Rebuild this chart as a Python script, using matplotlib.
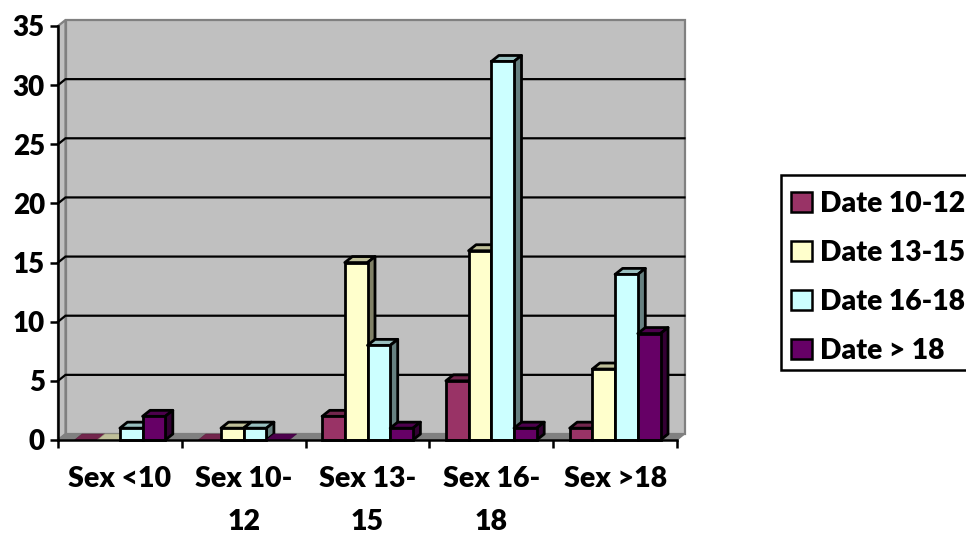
import matplotlib
matplotlib.use("Agg")
import matplotlib.pyplot as plt
from matplotlib.patches import Polygon, Patch, Rectangle
from matplotlib.colors import to_rgb

categories = ["Sex <10", "Sex 10-\n12", "Sex 13-\n15", "Sex 16-\n18", "Sex >18"]
series_names = ["Date 10-12", "Date 13-15", "Date 16-18", "Date > 18"]
date_10_12 = [0, 0, 2, 5, 1]
date_13_15 = [0, 1, 15, 16, 6]
date_16_18 = [1, 1, 8, 32, 14]
date_over_18 = [2, 0, 1, 1, 9]
series_values = [date_10_12, date_13_15, date_16_18, date_over_18]
colors = ["#993366", "#FFFFCC", "#CCFFFF", "#660066"]
y_ticks = [0, 5, 10, 15, 20, 25, 30, 35]

W, H = 966, 533
plt.rcParams["font.family"] = ["Lato", "DejaVu Sans"]
plt.rcParams["font.weight"] = 800
fig = plt.figure(figsize=(W / 100, H / 100), dpi=100)
L, R, T, B = 58, 677, 26, 440
ax = fig.add_axes([L / W, 1 - B / H, (R - L) / W, (B - T) / H])
ax.set_xlim(0, 5)
ax.set_ylim(0, 35)
ax.patch.set_visible(False)

ddx = 7.5 / ((R - L) / 5)
ddy = 6.0 / ((B - T) / 35)
bar_w = 22.7 / ((R - L) / 5)


def shade(c, f):
    return tuple(v * f for v in to_rgb(c))


LW = 2.0
# walls and floor
ax.add_patch(Polygon([(ddx, ddy), (5 + ddx, ddy), (5 + ddx, 35 + ddy), (ddx, 35 + ddy)],
                     fc="#C0C0C0", ec="#808080", lw=1.6, clip_on=False, zorder=1))
ax.add_patch(Polygon([(0, 0), (ddx, ddy), (ddx, 35 + ddy), (0, 35)],
                     fc="#C0C0C0", ec="#808080", lw=1.6, clip_on=False, zorder=1))
ax.add_patch(Polygon([(0, 0), (5, 0), (5 + ddx, ddy), (ddx, ddy)],
                     fc="#808080", ec="#808080", lw=1, clip_on=False, zorder=1.2))
for v in y_ticks[1:-1]:
    ax.plot([0, ddx, 5 + ddx], [v, v + ddy, v + ddy], color="black", lw=1.6,
            clip_on=False, zorder=1.5, solid_joinstyle="miter")

# 3D bars
for g in range(len(categories)):
    x0 = g + 0.5 - 2 * bar_w
    for s, vals in enumerate(series_values):
        v = vals[g]
        x = x0 + s * bar_w
        c = colors[s]
        z = 2 + g + s * 0.1
        ec = "black" if v > 0 else shade(c, 0.6)
        elw = LW if v > 0 else 0.4
        ax.add_patch(Polygon([(x, v), (x + bar_w, v), (x + bar_w + ddx, v + ddy), (x + ddx, v + ddy)],
                             fc=shade(c, 0.75), ec=ec, lw=elw, clip_on=False, zorder=z,
                             joinstyle="round"))
        if v > 0:
            ax.add_patch(Polygon([(x + bar_w, 0), (x + bar_w + ddx, ddy), (x + bar_w + ddx, v + ddy), (x + bar_w, v)],
                                 fc=shade(c, 0.5), ec="black", lw=LW, clip_on=False, zorder=z,
                                 joinstyle="round"))
            ax.bar(x, v, width=bar_w, align="edge", color=c, edgecolor="black",
                   linewidth=LW, zorder=z + 0.01, clip_on=False)

# axes
for name in ("top", "right"):
    ax.spines[name].set_visible(False)
for name in ("left", "bottom"):
    ax.spines[name].set_linewidth(1.8)
    ax.spines[name].set_zorder(20)
ax.set_yticks(y_ticks)
ax.set_xticks(range(6))
ax.set_xticklabels([])
ax.set_xticks([g + 0.5 for g in range(5)], minor=True)
ax.set_xticklabels(categories, minor=True, fontsize=20.5, linespacing=1.78)
ax.tick_params(axis="y", labelsize=20, length=6, width=1.8, pad=3.5)
ax.tick_params(axis="x", which="major", length=6, width=1.8)
ax.tick_params(axis="x", which="minor", length=0, pad=19)
for lab in ax.get_xticklabels(minor=True):
    lab.set_verticalalignment("top")

# legend frame runs past the right edge of the picture, as in the reference
fig.add_artist(Rectangle((781 / W, 1 - 370 / H), 195 / W, 195 / H, transform=fig.transFigure,
                         fc="white", ec="black", lw=1.8))
handles = [Patch(fc=c, ec="black", lw=1.8) for c in colors]
leg = fig.legend(handles, series_names, loc="upper left",
                 bbox_to_anchor=(781 / W, 1 - 181 / H), bbox_transform=fig.transFigure,
                 fontsize=20.3, frameon=False, borderaxespad=0, borderpad=0.35,
                 handlelength=0.75, handleheight=0.72, handletextpad=0.3, labelspacing=0.82)

fig.savefig("out.png", dpi=100)
